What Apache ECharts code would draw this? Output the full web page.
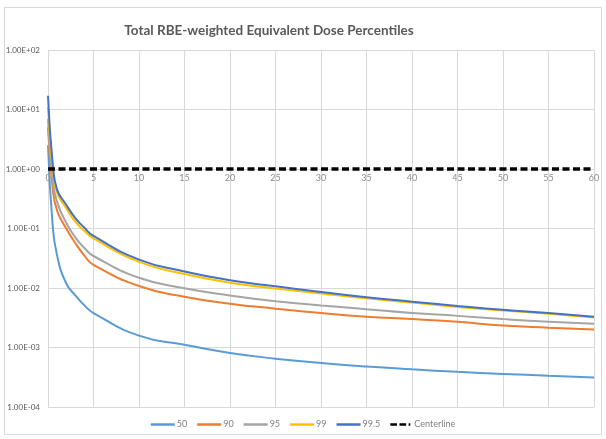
<!DOCTYPE html>
<html>
<head>
<meta charset="utf-8">
<script src="https://cdn.jsdelivr.net/npm/echarts@6/dist/echarts.min.js"></script>
<style>html,body{margin:0;padding:0;background:#fff}#c{width:606px;height:439px}</style>
</head>
<body>
<div id="c"></div>
<script>
var xValues = [0, 0.5, 1, 2, 3, 4, 5, 10, 15, 20, 25, 30, 35, 40, 45, 50, 55, 60];
var p50   = [2.5, 0.12, 0.035, 0.012, 0.0075, 0.0051, 0.0038, 0.00158, 0.00111, 0.00081, 0.00065, 0.00055, 0.00048, 0.00043, 0.00039, 0.00036, 0.000335, 0.000314];
var p90   = [5, 0.5, 0.2, 0.10, 0.057, 0.035, 0.0245, 0.0108, 0.0071, 0.00545, 0.0045, 0.0038, 0.0033, 0.0030, 0.0027, 0.00234, 0.00215, 0.0020];
var p95   = [7, 0.7, 0.28, 0.125, 0.071, 0.047, 0.0345, 0.0149, 0.0099, 0.0075, 0.0060, 0.0051, 0.0044, 0.0038, 0.0034, 0.0030, 0.0027, 0.0025];
var p99   = [11, 1.1, 0.40, 0.22, 0.13, 0.091, 0.068, 0.0275, 0.0172, 0.0123, 0.0098, 0.0081, 0.0067, 0.0057, 0.0048, 0.0042, 0.0037, 0.0032];
var p995  = [17, 1.3, 0.45, 0.25, 0.15, 0.103, 0.075, 0.030, 0.019, 0.0135, 0.0107, 0.0086, 0.0070, 0.0059, 0.0050, 0.0043, 0.0038, 0.0033];
var centerX = [0, 60];
var centerY = [1, 1];
var seriesNames = ['50', '90', '95', '99', '99.5', 'Centerline'];

function pairs(xs, ys) { return xs.map(function (x, i) { return [x, ys[i]]; }); }
function fmtExp(v) {
  var e = Math.round(Math.log10(v));
  var m = v / Math.pow(10, e);
  var s = Math.abs(e) < 10 ? '0' + Math.abs(e) : '' + Math.abs(e);
  return m.toFixed(2) + 'E' + (e < 0 ? '-' : '+') + s;
}
var colors = ['#5B9BD5', '#ED7D31', '#A5A5A5', '#FFC000', '#4472C4', '#000000'];
var vals = [p50, p90, p95, p99, p995];
var series = vals.map(function (v, i) {
  return {
    name: seriesNames[i], type: 'line', data: pairs(xValues, v),
    symbol: 'none', smooth: 0.5,
    lineStyle: { color: colors[i], width: 2 }, itemStyle: { color: colors[i] }, z: 3 + i
  };
});
series.push({
  name: seriesNames[5], type: 'line', data: pairs(centerX, centerY), symbol: 'none',
  lineStyle: { color: '#000', width: 3.5, type: [7, 3.5] }, itemStyle: { color: '#000' }, z: 10
});

var legendData = seriesNames.map(function (n, i) {
  return i < 5
    ? { name: n, icon: 'rect' }
    : { name: n, icon: 'path://M0,0h8v3h-8z M11,0h8v3h-8z M22,0h2v3h-2z' };
});

var F = 'Lato';
var chart = echarts.init(document.getElementById('c'), null, { renderer: 'canvas' });
chart.setOption({
  animation: false,
  backgroundColor: '#fff',
  textStyle: { fontFamily: F },
  graphic: [{ type: 'rect', shape: { x: 4.5, y: 7.5, width: 597, height: 427 }, style: { fill: 'none', stroke: '#d9d9d9', lineWidth: 1 }, silent: true }],
  title: {
    text: 'Total RBE-weighted Equivalent Dose Percentiles', left: 264, top: 19, textAlign: 'center',
    textStyle: { fontFamily: F, fontSize: 13.5, fontWeight: 'bold', color: '#595959' }
  },
  legend: {
    bottom: 5, left: 'center', itemWidth: 24, itemHeight: 2.5, itemGap: 10,
    data: legendData,
    textStyle: { fontFamily: F, fontSize: 9, color: '#7f7f7f', padding: [0, 0, 0, -3] }
  },
  grid: { left: 48, right: 12, top: 50, bottom: 32, containLabel: false },
  xAxis: {
    type: 'value', min: 0, max: 60, interval: 5, offset: -238,
    axisLine: { show: false }, axisTick: { show: false },
    axisLabel: { fontFamily: F, fontSize: 9, color: '#8c8c8c', margin: 5 },
    splitLine: { show: true, lineStyle: { color: '#d9d9d9', width: 1 } }
  },
  yAxis: {
    type: 'log', logBase: 10, min: 1e-4, max: 1e2,
    axisLine: { show: false }, axisTick: { show: false },
    axisLabel: { fontFamily: F, fontSize: 8, color: '#595959', margin: 8, formatter: fmtExp },
    splitLine: { show: true, lineStyle: { color: '#d9d9d9', width: 1 } }
  },
  series: series
});
</script>
</body>
</html>
